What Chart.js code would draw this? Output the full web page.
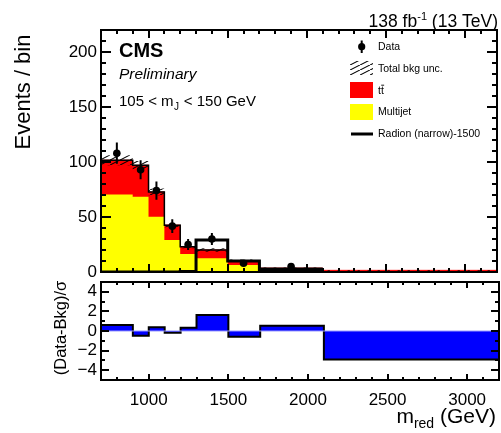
<!DOCTYPE html>
<html>
<head>
<meta charset="utf-8">
<script src="https://cdn.jsdelivr.net/npm/chart.js@4.4.1/dist/chart.umd.min.js"></script>
<style>
  html, body { margin: 0; padding: 0; background: #fff; }
  body { width: 501px; height: 433px; position: relative; overflow: hidden; }
  canvas { position: absolute; left: 0; }
  #top { top: 0; }
  #ratio { top: 262px; }
</style>
</head>
<body>
<canvas id="top" width="501" height="295"></canvas>
<canvas id="ratio" width="501" height="171"></canvas>
<script>
// Binning in m_red (GeV)
const binEdges = [700, 900, 1000, 1100, 1200, 1300, 1500, 1700, 2100, 3200];

// Background predictions per bin
const multijet = [70.5, 68.3, 50.2, 29.0, 16.3, 12.5, 6.3, 2.5, 1.0];
const ttbar    = [31.1, 28.7, 22.6, 13.6, 6.7, 7.5, 4.0, 1.0, 0.5];
const bkgUnc   = [4.5, 4.0, 3.0, 2.0, 1.5, 1.5, 1.0, 0.6, 0.3];

// Signal: Radion (narrow), m = 1500 GeV (bins up to 2100 GeV)
const signal = [0, 0, 0, 0, 0.5, 29, 10, 2];

// Observed data
const dataCenters = [800, 950, 1050, 1150, 1250, 1400, 1600, 1900];
const dataCounts  = [108, 93, 74, 41.7, 25, 30, 8, 5];
const dataErr     = [9.7, 8.6, 8.3, 6.3, 5.0, 5.5, 2.8, 2.2];

// (Data - Bkg) / sigma per bin
const pulls = [0.62, -0.48, 0.38, -0.17, 0.34, 1.64, -0.58, 0.54, -2.9];

// Axis tick labels
const yTicksTop   = [0, 50, 100, 150, 200];
const yTicksRatio = [-4, -2, 0, 2, 4];
const xTicks      = [1000, 1500, 2000, 2500, 3000];

const FONT = "'Liberation Sans', Arial, Helvetica, sans-serif";

function stepPoints(edges, vals) {
  const pts = vals.map((v, i) => ({ x: edges[i], y: v }));
  pts.push({ x: edges[vals.length], y: vals[vals.length - 1] });
  return pts;
}

const bkgTotal = multijet.map((v, i) => v + ttbar[i]);
const bandUp = bkgTotal.map((v, i) => v + bkgUnc[i]);
const bandDn = bkgTotal.map((v, i) => v - bkgUnc[i]);

const errBars = [];
dataCenters.forEach((c, i) => {
  errBars.push({ x: c, y: dataCounts[i] - dataErr[i] },
               { x: c, y: dataCounts[i] + dataErr[i] },
               { x: c, y: null });
});
const dataPts = dataCenters.map((c, i) => ({ x: c, y: dataCounts[i] }));

// Diagonal hatch used for the background uncertainty
function makeHatch() {
  const c = document.createElement('canvas');
  c.width = 10; c.height = 5;
  const g = c.getContext('2d');
  g.strokeStyle = '#000';
  g.lineWidth = 1.1;
  g.beginPath();
  g.moveTo(-1, 5.5); g.lineTo(11, -0.5);
  g.stroke();
  return g.createPattern(c, 'repeat');
}
const hatch = makeHatch();

// Inside tick marks on all four sides plus a heavy frame
function makeFrame(o) {
  return {
    id: 'axisFrame',
    afterDraw(chart) {
      const ctx = chart.ctx;
      const a = chart.chartArea;
      const x = chart.scales.x, y = chart.scales.y;
      const isMul = (v, s) => Math.abs(Math.round(v / s) * s - v) < 1e-6;
      ctx.save();
      ctx.fillStyle = '#000';
      const w = 2;
      for (let v = o.xStart; v <= o.xEnd + 1e-6; v += o.xMinor) {
        const px = Math.round(x.getPixelForValue(v));
        const L = isMul(v, o.xMajor) ? o.xMajorLen : o.xMinorLen;
        ctx.fillRect(px - 1, a.bottom - L, w, L);
        ctx.fillRect(px - 1, a.top, w, L);
      }
      for (let v = o.yStart; v <= o.yEnd + 1e-6; v += o.yMinor) {
        const py = Math.round(y.getPixelForValue(v));
        const L = isMul(v, o.yMajor) ? o.yMajorLen : o.yMinorLen;
        ctx.fillRect(a.left, py - 1, L, w);
        ctx.fillRect(a.right - L, py - 1, L, w);
      }
      ctx.strokeStyle = '#000';
      ctx.lineWidth = 2;
      ctx.strokeRect(a.left, a.top, a.right - a.left, a.bottom - a.top);
      ctx.restore();
    }
  };
}

// Titles, labels and legend of the upper panel
const topText = {
  id: 'topText',
  afterDraw(chart) {
    const ctx = chart.ctx;
    ctx.save();
    ctx.fillStyle = '#000';
    ctx.textAlign = 'left';
    ctx.textBaseline = 'alphabetic';

    // luminosity / energy header
    const big = `17.5px ${FONT}`, sup = `11px ${FONT}`;
    ctx.font = big;
    const p1 = '138 fb', p3 = ' (13 TeV)';
    const w1 = ctx.measureText(p1).width, w3 = ctx.measureText(p3).width;
    ctx.font = sup;
    const p2 = '-1';
    const w2 = ctx.measureText(p2).width;
    let xs = 498 - w1 - w2 - w3;
    ctx.font = big; ctx.fillText(p1, xs, 27);
    ctx.font = sup; ctx.fillText(p2, xs + w1, 20);
    ctx.font = big; ctx.fillText(p3, xs + w1 + w2, 27);

    // experiment labels
    ctx.font = `bold 20px ${FONT}`;
    ctx.fillText('CMS', 119, 57);
    ctx.font = `italic 15.5px ${FONT}`;
    ctx.fillText('Preliminary', 119, 79);

    // mass window
    ctx.font = `15px ${FONT}`;
    let t = '105 < m';
    ctx.fillText(t, 119, 106);
    let xx = 119 + ctx.measureText(t).width;
    ctx.font = `10px ${FONT}`;
    ctx.fillText('J', xx + 0.5, 110);
    xx += ctx.measureText('J').width + 1;
    ctx.font = `15px ${FONT}`;
    ctx.fillText(' < 150 GeV', xx, 106);

    // y-axis title
    ctx.save();
    ctx.translate(24, 92);
    ctx.rotate(-Math.PI / 2);
    ctx.textAlign = 'center';
    ctx.textBaseline = 'middle';
    ctx.font = `22px ${FONT}`;
    ctx.fillText('Events / bin', 0, 0);
    ctx.restore();

    // legend
    ctx.font = `10.5px ${FONT}`;
    ctx.textBaseline = 'middle';
    const tx = 378;
    // data
    ctx.lineWidth = 2;
    ctx.strokeStyle = '#000';
    ctx.beginPath(); ctx.moveTo(361.7, 40.5); ctx.lineTo(361.7, 53); ctx.stroke();
    ctx.beginPath(); ctx.arc(361.7, 46.7, 3.6, 0, Math.PI * 2); ctx.fill();
    ctx.fillText('Data', tx, 47);
    // background uncertainty
    ctx.fillStyle = hatch;
    ctx.fillRect(350, 61, 23, 14);
    ctx.fillStyle = '#000';
    ctx.fillText('Total bkg unc.', tx, 69);
    // ttbar
    ctx.fillStyle = '#ff0000';
    ctx.fillRect(350, 82, 23, 16);
    ctx.fillStyle = '#000';
    ctx.fillText('t', tx, 91);
    const tw = ctx.measureText('t').width;
    ctx.fillText('t', tx + tw, 91);
    ctx.lineWidth = 0.9;
    ctx.beginPath(); ctx.moveTo(tx + tw + 0.3, 85.2); ctx.lineTo(tx + 2 * tw + 0.3, 85.2); ctx.stroke();
    // multijet
    ctx.fillStyle = '#ffff00';
    ctx.fillRect(350, 104, 23, 16);
    ctx.fillStyle = '#000';
    ctx.fillText('Multijet', tx, 112);
    // signal
    ctx.lineWidth = 3;
    ctx.beginPath(); ctx.moveTo(351, 134); ctx.lineTo(373, 134); ctx.stroke();
    ctx.fillText('Radion (narrow)-1500', tx, 134);
    ctx.restore();
  }
};

// Axis titles of the lower panel
const ratioText = {
  id: 'ratioText',
  afterDraw(chart) {
    const ctx = chart.ctx;
    ctx.save();
    ctx.fillStyle = '#000';
    ctx.save();
    ctx.translate(61, 328 - 262);
    ctx.rotate(-Math.PI / 2);
    ctx.textAlign = 'center';
    ctx.textBaseline = 'middle';
    ctx.font = `16.5px ${FONT}`;
    ctx.fillText('(Data-Bkg)/\u03c3', 0, 0);
    ctx.restore();

    const big = `21px ${FONT}`, sub = `14px ${FONT}`;
    ctx.textBaseline = 'alphabetic';
    ctx.textAlign = 'left';
    ctx.font = big;
    const a = 'm', c = ' (GeV)';
    const wa = ctx.measureText(a).width, wc = ctx.measureText(c).width;
    ctx.font = sub;
    const b = 'red';
    const wb = ctx.measureText(b).width;
    const base = 423 - 262;
    let xs = 496 - wa - wb - wc;
    ctx.font = big; ctx.fillText(a, xs, base);
    ctx.font = sub; ctx.fillText(b, xs + wa, base + 5);
    ctx.font = big; ctx.fillText(c, xs + wa + wb, base);
    ctx.restore();
  }
};

const tickFont = { family: FONT, size: 17 };

new Chart(document.getElementById('top'), {
  type: 'line',
  data: {
    datasets: [
      { // ttbar stacked on multijet
        data: stepPoints(binEdges, bkgTotal), stepped: true, fill: 'origin',
        backgroundColor: '#ff0000', borderColor: '#ff0000', borderWidth: 1, pointRadius: 0, order: 9
      },
      { // multijet
        data: stepPoints(binEdges, multijet), stepped: true, fill: 'origin',
        backgroundColor: '#ffff00', borderWidth: 0, pointRadius: 0, order: 8
      },
      { // uncertainty band upper edge, filled down to lower edge
        data: stepPoints(binEdges, bandUp), stepped: true, fill: 3,
        backgroundColor: hatch, borderWidth: 0, pointRadius: 0, order: 7
      },
      { // uncertainty band lower edge
        data: stepPoints(binEdges, bandDn), stepped: true, fill: false,
        borderWidth: 0, pointRadius: 0, order: 7
      },
      { // total background outline
        data: stepPoints(binEdges, bkgTotal.slice(0, 8)), stepped: true, fill: false,
        borderColor: '#000', borderWidth: 1.5, pointRadius: 0, order: 6
      },
      { // signal
        data: stepPoints(binEdges, signal), stepped: true, fill: false,
        borderColor: '#000', borderWidth: 3, pointRadius: 0, order: 5
      },
      { // data error bars
        data: errBars, fill: false, spanGaps: false,
        borderColor: '#000', borderWidth: 2, pointRadius: 0, order: 2
      },
      { // data points
        data: dataPts, showLine: false, fill: false,
        pointRadius: 3.8, pointBackgroundColor: '#000', pointBorderWidth: 0, order: 1
      }
    ]
  },
  options: {
    responsive: false,
    animation: false,
    events: [],
    layout: { padding: { left: 0, right: 2, top: 30, bottom: 23 } },
    scales: {
      x: { type: 'linear', min: 700, max: 3200, display: false },
      y: {
        type: 'linear', min: 0, max: 220,
        grid: { display: false, drawTicks: false }, border: { display: false },
        ticks: { font: tickFont, color: '#000', padding: 4 },
        afterBuildTicks: s => { s.ticks = yTicksTop.map(v => ({ value: v })); },
        afterFit: s => { s.width = 101; }
      }
    },
    plugins: { legend: { display: false }, tooltip: { enabled: false } }
  },
  plugins: [
    makeFrame({ xStart: 700, xEnd: 3200, xMinor: 100, xMajor: 500, xMajorLen: 8, xMinorLen: 4,
                yStart: 0, yEnd: 220, yMinor: 10, yMajor: 50, yMajorLen: 10, yMinorLen: 5 }),
    topText
  ]
});

new Chart(document.getElementById('ratio'), {
  type: 'line',
  data: {
    datasets: [
      { // zero reference
        data: [{ x: 700, y: 0 }, { x: 3200, y: 0 }], fill: false,
        borderColor: '#9a9aff', borderWidth: 1, pointRadius: 0, order: 1
      },
      { // pulls
        data: stepPoints(binEdges, pulls), stepped: true, fill: 'origin',
        backgroundColor: '#0000ff', borderColor: '#000', borderWidth: 2, pointRadius: 0, order: 2
      }
    ]
  },
  options: {
    responsive: false,
    animation: false,
    events: [],
    layout: { padding: { left: 0, right: 2, top: 20, bottom: 0 } },
    scales: {
      x: {
        type: 'linear', min: 700, max: 3200,
        grid: { display: false, drawTicks: false }, border: { display: false },
        ticks: { font: tickFont, color: '#000', padding: 10, maxRotation: 0,
                 callback: v => String(v) },
        afterBuildTicks: s => { s.ticks = xTicks.map(v => ({ value: v })); },
        afterFit: s => { s.height = 53; }
      },
      y: {
        type: 'linear', min: -5, max: 5,
        grid: { display: false, drawTicks: false }, border: { display: false },
        ticks: { font: tickFont, color: '#000', padding: 4,
                 callback: v => (v < 0 ? '\u2212' + Math.abs(v) : String(v)) },
        afterBuildTicks: s => { s.ticks = yTicksRatio.map(v => ({ value: v })); },
        afterFit: s => { s.width = 101; }
      }
    },
    plugins: { legend: { display: false }, tooltip: { enabled: false } }
  },
  plugins: [
    makeFrame({ xStart: 700, xEnd: 3200, xMinor: 100, xMajor: 500, xMajorLen: 6, xMinorLen: 3,
                yStart: -5, yEnd: 5, yMinor: 1, yMajor: 2, yMajorLen: 8, yMinorLen: 4 }),
    ratioText
  ]
});
</script>
</body>
</html>
